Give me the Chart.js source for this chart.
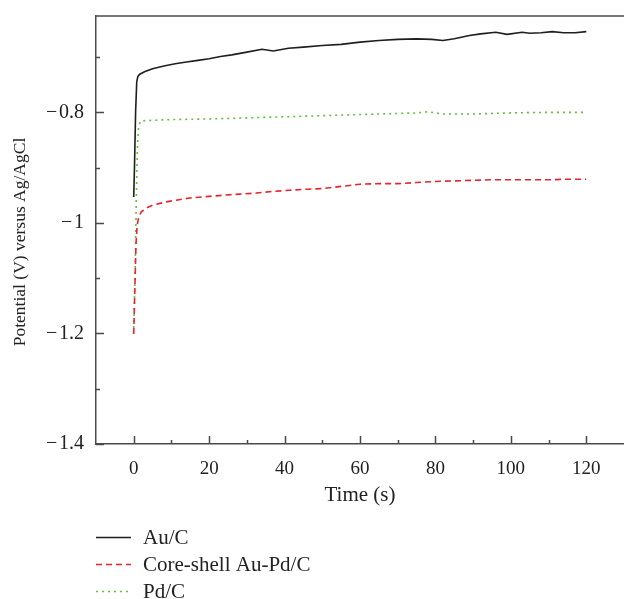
<!DOCTYPE html>
<html>
<head>
<meta charset="utf-8">
<script src="https://cdn.jsdelivr.net/npm/chart.js@4.4.0/dist/chart.umd.min.js"></script>
<style>
  html, body { margin: 0; padding: 0; background: #fff; }
</style>
</head>
<body>
<canvas id="chart" width="624" height="599"></canvas>
<script>
// data
const seriesNames = ['Au/C', 'Core-shell Au-Pd/C', 'Pd/C'];
const yTitle = 'Potential (V) versus Ag/AgCl';

const timeAu = [0, 0.2, 0.5, 0.8, 1.1, 1.6, 3, 5, 8, 11, 14, 17, 20, 23, 26, 30, 34, 37, 41, 45, 50, 55, 60, 65, 70, 75, 79, 82, 85, 89, 92, 96, 99, 103, 105, 108, 111, 114, 117, 120];
const potAu  = [-0.953, -0.90, -0.80, -0.745, -0.735, -0.731, -0.726, -0.721, -0.716, -0.712, -0.709, -0.706, -0.703, -0.699, -0.696, -0.691, -0.686, -0.689, -0.684, -0.682, -0.679, -0.677, -0.673, -0.670, -0.668, -0.667, -0.668, -0.670, -0.667, -0.661, -0.658, -0.655, -0.659, -0.655, -0.657, -0.656, -0.654, -0.656, -0.656, -0.654];

const timeCS = [0, 0.3, 0.6, 0.9, 1.3, 2, 3.4, 5, 8.6, 12, 14.8, 20, 23.6, 28, 32.5, 37, 41.3, 46, 50, 55, 60, 65, 70, 75, 80, 85, 90, 95, 100, 105, 110, 115, 120];
const potCS  = [-1.201, -1.12, -1.04, -1.005, -0.99, -0.980, -0.973, -0.968, -0.962, -0.958, -0.955, -0.952, -0.950, -0.948, -0.946, -0.943, -0.941, -0.939, -0.938, -0.934, -0.930, -0.929, -0.929, -0.927, -0.925, -0.924, -0.923, -0.922, -0.922, -0.922, -0.922, -0.921, -0.921];

const timePd = [0, 0.4, 0.7, 1.0, 1.3, 1.8, 3, 10, 20, 30, 40, 50, 60, 70, 75, 78, 82, 90, 100, 110, 120];
const potPd  = [-1.19, -1.08, -0.95, -0.86, -0.825, -0.816, -0.815, -0.813, -0.812, -0.810, -0.808, -0.806, -0.804, -0.802, -0.801, -0.799, -0.803, -0.803, -0.801, -0.800, -0.800];

const xMajor = [0, 20, 40, 60, 80, 100, 120];
const xMinor = [10, 30, 50, 70, 90, 110];
const yMajor = [-0.8, -1, -1.2, -1.4];
const yMinor = [-0.7, -0.9, -1.1, -1.3];

const FONT = "'Liberation Serif', 'DejaVu Serif', serif";
const AXIS = '#4a4a4a';

const pts = (ts, vs) => ts.map((t, i) => ({ x: t, y: vs[i] }));

// inward tick marks, top frame line, y title and the stacked legend under the axis
const framePlugin = {
  id: 'frame',
  afterDraw(chart) {
    const { ctx, chartArea: a, scales: { x, y } } = chart;
    ctx.save();
    ctx.strokeStyle = AXIS;
    ctx.lineWidth = 1.5;
    ctx.beginPath();
    ctx.moveTo(a.left, a.top);
    ctx.lineTo(a.right, a.top);
    const tick = (list, len, horiz) => list.forEach(v => {
      if (horiz) {
        const px = Math.round(x.getPixelForValue(v)) + 0.5;
        ctx.moveTo(px, a.bottom);
        ctx.lineTo(px, a.bottom - len);
      } else {
        const py = Math.round(y.getPixelForValue(v)) + 0.5;
        ctx.moveTo(a.left, py);
        ctx.lineTo(a.left + len, py);
      }
    });
    tick(xMajor, 8, true);
    tick(xMinor, 4, true);
    tick(yMajor, 8, false);
    tick(yMinor, 4, false);
    ctx.stroke();

    // y title, sits a little below the middle of the axis like the original
    ctx.save();
    ctx.translate(20, 242);
    ctx.rotate(-Math.PI / 2);
    ctx.fillStyle = '#222';
    ctx.font = '17.5px ' + FONT;
    ctx.textAlign = 'center';
    ctx.textBaseline = 'middle';
    ctx.fillText(yTitle, 0, 0);
    ctx.restore();

    // legend
    const rows = [537, 564, 591];
    chart.data.datasets.forEach((ds, i) => {
      ctx.beginPath();
      ctx.strokeStyle = ds.borderColor;
      ctx.lineWidth = ds.borderWidth;
      ctx.setLineDash(ds.borderDash || []);
      ctx.moveTo(96, rows[i] + 0.5);
      ctx.lineTo(131, rows[i] + 0.5);
      ctx.stroke();
      ctx.setLineDash([]);
      ctx.fillStyle = '#222';
      ctx.font = '21px ' + FONT;
      ctx.textBaseline = 'middle';
      ctx.textAlign = 'left';
      ctx.fillText(ds.label, 143, rows[i] + 1);
    });
    ctx.restore();
  }
};

const line = (label, data, color, dash) => ({
  label, data,
  borderColor: color,
  borderWidth: 1.6,
  borderDash: dash,
  pointRadius: 0,
  tension: 0,
  fill: false
});

new Chart(document.getElementById('chart'), {
  type: 'line',
  data: {
    datasets: [
      line(seriesNames[0], pts(timeAu, potAu), '#1e1e1e', []),
      line(seriesNames[1], pts(timeCS, potCS), '#e8232b', [6, 4]),
      line(seriesNames[2], pts(timePd, potPd), '#63c03a', [2, 4])
    ]
  },
  options: {
    responsive: false,
    animation: false,
    layout: { padding: { top: 5, right: 0, left: 0, bottom: 87 } },
    plugins: { legend: { display: false }, tooltip: { enabled: false } },
    scales: {
      x: {
        type: 'linear',
        min: -10, max: 130,
        afterBuildTicks: s => { s.ticks = xMajor.map(v => ({ value: v })); },
        afterFit: s => { s.height = 68; },
        grid: { display: false },
        border: { display: true, color: AXIS, width: 1.5 },
        ticks: { padding: 6, color: '#222', font: { family: FONT, size: 19 }, maxRotation: 0 },
        title: { display: true, text: 'Time (s)', color: '#222', padding: { top: 0, bottom: 4 }, font: { family: FONT, size: 21 } }
      },
      y: {
        type: 'linear',
        min: -1.4, max: -0.6257,
        afterBuildTicks: s => { s.ticks = yMajor.map(v => ({ value: v })); },
        afterFit: s => { s.width = 96; },
        grid: { display: false },
        border: { display: true, color: AXIS, width: 1.5 },
        ticks: {
          padding: 4, color: '#222', font: { family: FONT, size: 20 },
          callback: v => '\u2212\u200A' + Math.abs(v)
        },
        title: { display: false }
      }
    }
  },
  plugins: [framePlugin]
});
</script>
</body>
</html>
